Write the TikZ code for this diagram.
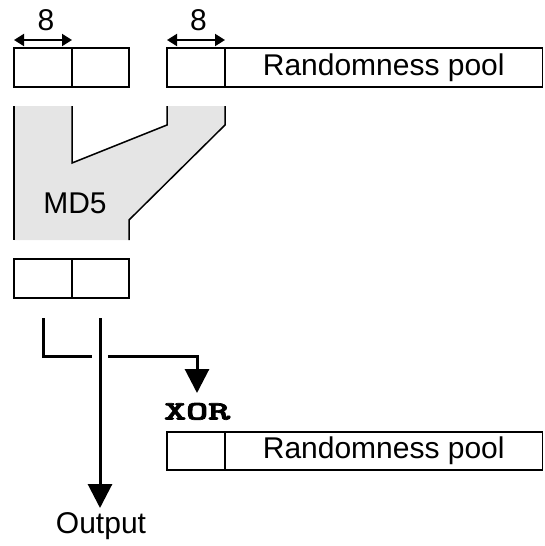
\documentclass[tikz,border=0pt]{standalone}
\usepackage{graphicx}
\usepackage{fontspec}
\setmainfont{Liberation Sans}
\newfontfamily\xorfont{lmmonolt10-bold.otf}[FakeBold=2.5]
\usetikzlibrary{arrows.meta}
\begin{document}
\begin{tikzpicture}[x=1pt,y=-1pt,
  cell/.style={draw,line width=1.5pt,minimum height=39pt,inner sep=0pt,outer sep=0pt,
    font=\fontsize{30}{36}\selectfont},
  width8/.style={{Triangle[length=10pt,width=12pt]}-{Triangle[length=10pt,width=12pt]},line width=2pt},
  flow/.style={line width=3pt},
  bigtip/.style={-{Triangle[length=24pt,width=24pt]}},
  label/.style={font=\fontsize{30}{36}\selectfont,inner sep=0pt},
  widthlabel/.style={font=\fontsize{30}{36}\selectfont,inner sep=0pt}]
\useasboundingbox (0,0) rectangle (544,546);

% hash input: two 8-byte cells
\node[cell,minimum width=58pt] (inA) at (43,67.5) {};
\node[cell,minimum width=57pt] (inB) at (100.5,67.5) {};
% randomness pool, first cell
\node[cell,minimum width=58pt] (poolA) at (196,67.5) {};
\node[cell,minimum width=317.5pt] (poolB) at (383.75,67.5) {Randomness pool};

% widths of the cells
\draw[width8] ([yshift=8pt]inA.north west) -- ([yshift=8pt]inA.north east);
\node[widthlabel,anchor=base] (eightA) at (46,30) {8};
\draw[width8] ([yshift=8pt]poolA.north west) -- ([yshift=8pt]poolA.north east);
\node[widthlabel,anchor=base] (eightB) at (198.5,30) {8};

% MD5 funnel
\fill[black!10] (14,106) -- (72,106) -- (72,163) -- (167,125) -- (167,106)
  -- (225,106) -- (225,125) -- (129,220) -- (129,240) -- (14,240) -- cycle;
\draw[line width=1.5pt] (14,106) -- (14,240);
\draw[line width=1.5pt] (72,106) -- (72,163) -- (167,125) -- (167,106);
\draw[line width=1.5pt] (225,106) -- (225,125) -- (129,220) -- (129,240);
\node[label] (md5) at (75,203) {MD5};

% hash output: two cells
\node[cell,minimum width=58pt] (outA) at (43,278.5) {};
\node[cell,minimum width=57pt] (outB) at (100.5,278.5) {};

% second half of the output goes back into the pool
\coordinate (fbStart) at (43,318);
\coordinate (fbBend) at (43,356);
\coordinate (fbGapL) at (92,356);
\coordinate (fbGapR) at (108,356);
\coordinate (fbCorner) at (197,356);
\node[inner sep=0pt,anchor=south west] (xor) at (164,420) {\resizebox{66pt}{16.5pt}{\xorfont XOR}};
\coordinate (xorTip) at (197,393);
\draw[flow] (fbStart) -- (fbBend) -- (fbGapL);
\draw[flow,bigtip] (fbGapR) -- (fbCorner) -- (xorTip);

% first half is the output
\coordinate (outStart) at (100,318);
\coordinate (outTip) at (100,508);
\node[label,anchor=base] (output) at (101,533) {Output};
\draw[flow,bigtip] (outStart) -- (outTip);

% randomness pool after mixing
\node[cell,minimum width=58pt,minimum height=38pt] (pool2A) at (196,451) {};
\node[cell,minimum width=317.5pt,minimum height=38pt] (pool2B) at (383.75,451) {Randomness pool};
\end{tikzpicture}
\end{document}
